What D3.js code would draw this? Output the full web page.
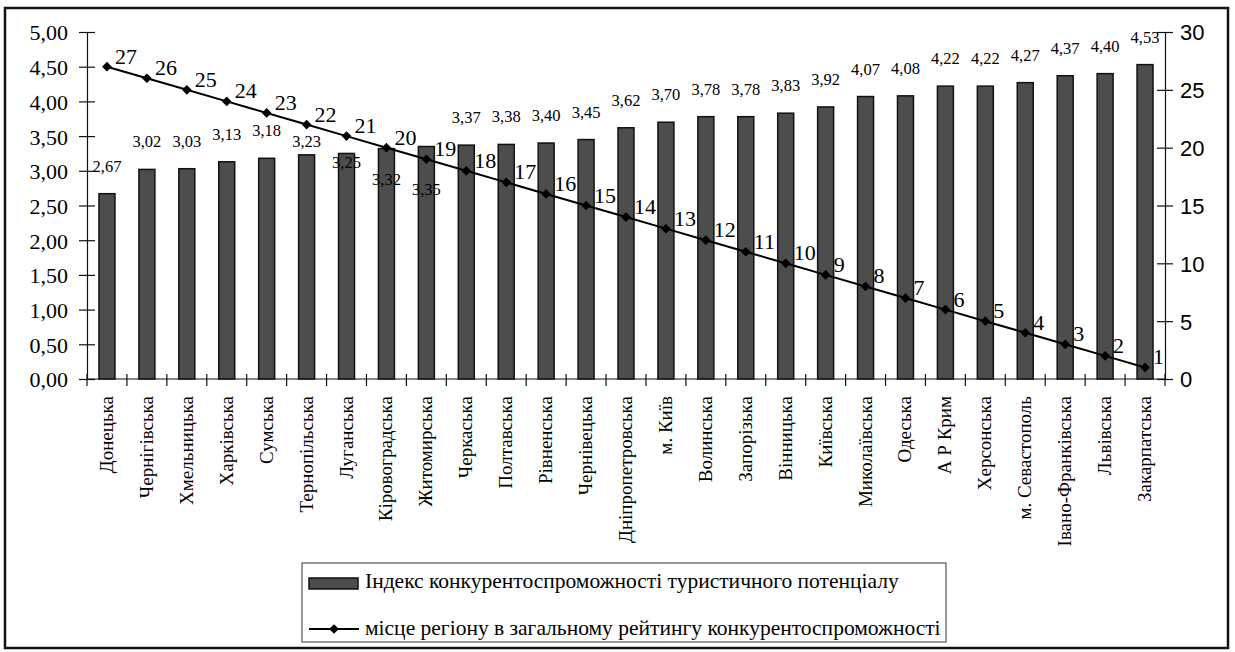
<!DOCTYPE html>
<html>
<head>
<meta charset="utf-8">
<script src="https://cdn.jsdelivr.net/npm/d3@7"></script>
</head>
<body style="margin:0">
<script>
var regions = ["Донецька", "Чернігівська", "Хмельницька", "Харківська", "Сумська",
               "Тернопільська", "Луганська", "Кіровоградська", "Житомирська", "Черкаська",
               "Полтавська", "Рівненська", "Чернівецька", "Дніпропетровська", "м. Київ",
               "Волинська", "Запорізька", "Вінницька", "Київська", "Миколаївська",
               "Одеська", "А Р Крим", "Херсонська", "м. Севастополь", "Івано-Франківська",
               "Львівська", "Закарпатська"];
var indexValues = [2.67, 3.02, 3.03, 3.13, 3.18, 3.23, 3.25, 3.32, 3.35, 3.37,
                   3.38, 3.40, 3.45, 3.62, 3.70, 3.78, 3.78, 3.83, 3.92, 4.07,
                   4.08, 4.22, 4.22, 4.27, 4.37, 4.40, 4.53];
var rankValues = [27, 26, 25, 24, 23, 22, 21, 20, 19, 18, 17, 16, 15, 14, 13,
                  12, 11, 10, 9, 8, 7, 6, 5, 4, 3, 2, 1];
var leftTicks = [0, 0.5, 1, 1.5, 2, 2.5, 3, 3.5, 4, 4.5, 5];
var rightTicks = [0, 5, 10, 15, 20, 25, 30];
var legendNames = ["Індекс конкурентоспроможності туристичного потенціалу",
                   "місце регіону в загальному рейтингу конкурентоспроможності"];

var W = 1235, H = 652;
var plotLeft = 87, plotRight = 1165, plotTop = 32, plotBottom = 379;
var serifFont = "Times New Roman";
// some value labels were pushed down in the original to clear the line
var labelNudge = {5: 14, 6: 37, 7: 58, 8: 70};
var fmt = function(v){ return d3.format(".2f")(v).replace(".", ","); };

var svg = d3.select("body")
            .append("svg")
            .attr("width", W)
            .attr("height", H);

svg.append("rect")
    .attr("x", 5).attr("y", 8)
    .attr("width", 1223).attr("height", 640)
    .attr("fill", "none")
    .attr("stroke", "#111")
    .attr("stroke-width", 2.5);

var xScale = d3.scaleBand()
                .domain(regions)
                .range([plotLeft, plotRight])
                .paddingInner(0.6)
                .paddingOuter(0.3);
var yScale = d3.scaleLinear()
                .domain([0, 5])
                .range([plotBottom, plotTop]);
var rScale = d3.scaleLinear()
                .domain([0, 30])
                .range([plotBottom, plotTop]);
var step = (plotRight - plotLeft) / regions.length;
var cx = function(i){ return xScale(regions[i]) + xScale.bandwidth() / 2; };

// left axis
var gy = svg.append("g")
    .attr("transform", "translate(" + plotLeft + ",0)")
    .call(d3.axisLeft(yScale)
            .tickValues(leftTicks)
            .tickSizeInner(8)
            .tickSizeOuter(0)
            .tickPadding(11)
            .tickFormat(fmt));
gy.attr("font-family", serifFont).attr("font-size", 22);
gy.selectAll(".tick line").attr("x2", 8).attr("x1", -8);
gy.selectAll("text").attr("fill", "#000").attr("dy", "0.36em");

// right axis
var gr = svg.append("g")
    .attr("transform", "translate(" + plotRight + ",0)")
    .call(d3.axisRight(rScale)
            .tickValues(rightTicks)
            .tickSizeInner(8)
            .tickSizeOuter(0)
            .tickPadding(7));
gr.attr("font-family", "Liberation Sans").attr("font-size", 22);
gr.selectAll(".tick line").attr("x1", -8).attr("x2", 8);
gr.selectAll("text").attr("fill", "#000").attr("dy", "0.36em");

svg.selectAll(".domain, .tick line").attr("stroke", "#111").attr("stroke-width", 1.2);

// category axis
svg.append("line")
    .attr("x1", plotLeft).attr("x2", plotRight)
    .attr("y1", plotBottom).attr("y2", plotBottom)
    .attr("stroke", "#111").attr("stroke-width", 1.2);
svg.selectAll(".xtick")
    .data(d3.range(regions.length + 1))
    .enter()
    .append("line")
    .attr("class", "xtick")
    .attr("x1", function(i){ return plotLeft + i * step; })
    .attr("x2", function(i){ return plotLeft + i * step; })
    .attr("y1", plotBottom - 5)
    .attr("y2", plotBottom + 7)
    .attr("stroke", "#111").attr("stroke-width", 1.2);

svg.selectAll(".xlab")
    .data(regions)
    .enter()
    .append("text")
    .attr("class", "xlab")
    .attr("transform", function(d, i){
        return "translate(" + (cx(i) + 6) + "," + (plotBottom + 17) + ") rotate(-90)";
    })
    .attr("text-anchor", "end")
    .attr("font-family", serifFont)
    .attr("font-size", 19)
    .text(function(d){ return d; });

// bars
svg.selectAll(".bar")
    .data(indexValues)
    .enter()
    .append("rect")
    .attr("class", "bar")
    .attr("x", function(d, i){ return xScale(regions[i]); })
    .attr("y", function(d){ return yScale(d); })
    .attr("width", xScale.bandwidth())
    .attr("height", function(d){ return plotBottom - yScale(d); })
    .attr("fill", "#4d4d4d")
    .attr("stroke", "#111")
    .attr("stroke-width", 1.5);

// rank line
var line = d3.line()
            .x(function(d, i){ return cx(i); })
            .y(function(d){ return rScale(d); });
svg.append("path")
    .datum(rankValues)
    .attr("d", line)
    .attr("fill", "none")
    .attr("stroke", "#000")
    .attr("stroke-width", 2);

var diamond = d3.symbol().type(d3.symbolDiamond2).size(60);
svg.selectAll(".mark")
    .data(rankValues)
    .enter()
    .append("path")
    .attr("class", "mark")
    .attr("d", diamond)
    .attr("transform", function(d, i){
        return "translate(" + cx(i) + "," + rScale(d) + ")";
    })
    .attr("fill", "#000");

// value labels
svg.selectAll(".vlab")
    .data(indexValues)
    .enter()
    .append("text")
    .attr("class", "vlab")
    .attr("x", function(d, i){ return cx(i); })
    .attr("y", function(d, i){ return yScale(d) - 22 + (labelNudge[i] || 0); })
    .attr("text-anchor", "middle")
    .attr("font-family", serifFont)
    .attr("font-size", 16.5)
    .text(fmt);

// rank labels
svg.selectAll(".rlab")
    .data(rankValues)
    .enter()
    .append("text")
    .attr("class", "rlab")
    .attr("x", function(d, i){ return cx(i) + 8; })
    .attr("y", function(d){ return rScale(d) - 3; })
    .attr("font-family", serifFont)
    .attr("font-size", 22)
    .text(function(d){ return d; });

// legend
var lg = svg.append("g");
lg.append("rect")
    .attr("x", 302).attr("y", 563)
    .attr("width", 644).attr("height", 79)
    .attr("fill", "#fff")
    .attr("stroke", "#555")
    .attr("stroke-width", 1.2);
lg.append("rect")
    .attr("x", 309).attr("y", 578)
    .attr("width", 49).attr("height", 11)
    .attr("fill", "#4d4d4d")
    .attr("stroke", "#111")
    .attr("stroke-width", 1.5);
lg.append("line")
    .attr("x1", 309).attr("x2", 359)
    .attr("y1", 629).attr("y2", 629)
    .attr("stroke", "#000").attr("stroke-width", 2);
lg.append("path")
    .attr("d", diamond)
    .attr("transform", "translate(334,629)")
    .attr("fill", "#000");
lg.selectAll(".ltext")
    .data(legendNames)
    .enter()
    .append("text")
    .attr("class", "ltext")
    .attr("x", 365)
    .attr("y", function(d, i){ return i == 0 ? 588 : 635; })
    .attr("font-family", serifFont)
    .attr("font-size", 21.5)
    .text(function(d){ return d; });
</script>
</body>
</html>
